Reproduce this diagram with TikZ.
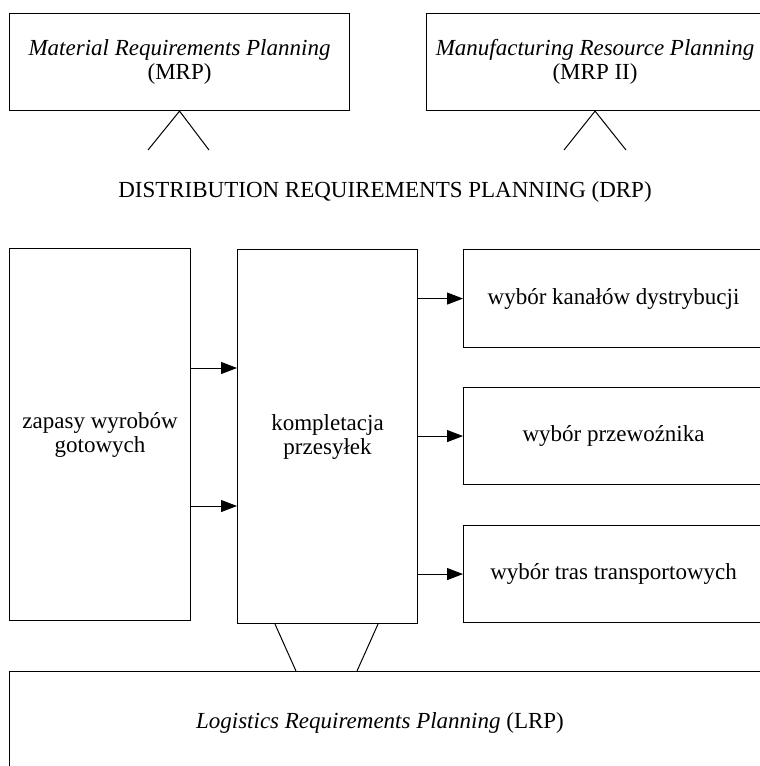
\documentclass[tikz,border=0pt]{standalone}
\usepackage{fontspec}
\setmainfont{Liberation Serif}
\usetikzlibrary{arrows.meta,calc}

\begin{document}
\begin{tikzpicture}[x=1pt,y=-1pt,
  every node/.style={font=\fontsize{23}{24}\selectfont, inner sep=0pt, align=center},
  box/.style={draw, line width=1.1pt, rectangle, anchor=north west},
  link/.style={line width=1pt},
  arr/.style={line width=1pt, -{Triangle[length=16pt,width=12pt]}}]
  \useasboundingbox (0,0) rectangle (760,766);
  \clip (0,0) rectangle (760,766);

  % upper planning systems
  \node[box, minimum width=340pt, minimum height=97pt] (mrp) at (9,13)
    {\textit{Material Requirements Planning}\\(MRP)};
  \node[box, minimum width=337pt, minimum height=97pt] (mrpii) at (426,13)
    {\textit{Manufacturing Resource Planning}\\(MRP II)};

  % inheritance marks towards DRP
  \coordinate (mrpL) at (148,150);
  \coordinate (mrpR) at (209,150);
  \coordinate (mrpiiL) at (564,150);
  \coordinate (mrpiiR) at (626,150);
  \draw[link] (mrpL) -- (mrp.south) -- (mrpR);
  \draw[link] (mrpiiL) -- (mrpii.south) -- (mrpiiR);

  \node (drp) at (385,192) {DISTRIBUTION REQUIREMENTS PLANNING (DRP)};

  % DRP components
  \node[box, minimum width=181pt, minimum height=372pt] (zap) at (9,248)
    {zapasy wyrobów\\gotowych};
  \node[box, minimum width=180pt, minimum height=374pt] (kompl) at (237,249)
    {kompletacja\\przesyłek};
  \node[box, minimum width=300pt, minimum height=98pt] (kan) at (463,249)
    {wybór kanałów dystrybucji};
  \node[box, minimum width=300pt, minimum height=97pt] (prz) at (463,387)
    {wybór przewoźnika};
  \node[box, minimum width=300pt, minimum height=97pt] (tras) at (463,525)
    {wybór tras transportowych};

  \draw[arr] (zap.east |- 0,368) -- (kompl.west |- 0,368);
  \draw[arr] (zap.east |- 0,506) -- (kompl.west |- 0,506);
  \draw[arr] (kompl.east |- kan.west) -- (kan.west);
  \draw[arr] (kompl.east |- prz.west) -- (prz.west);
  \draw[arr] (kompl.east |- tras.west) -- (tras.west);

  % logistics layer
  \node[box, minimum width=780pt, minimum height=120pt] (lrp) at (9,671) {};
  \node (lrptext) at (380,723) {\textit{Logistics Requirements Planning} (LRP)};

  \coordinate (kL) at ($(kompl.south west)+(38,0)$);
  \coordinate (kR) at ($(kompl.south west)+(141,0)$);
  \coordinate (lL) at ($(lrp.north west)+(287,0)$);
  \coordinate (lR) at ($(lrp.north west)+(348,0)$);
  \draw[link] (kL) -- (lL);
  \draw[link] (kR) -- (lR);
\end{tikzpicture}
\end{document}
